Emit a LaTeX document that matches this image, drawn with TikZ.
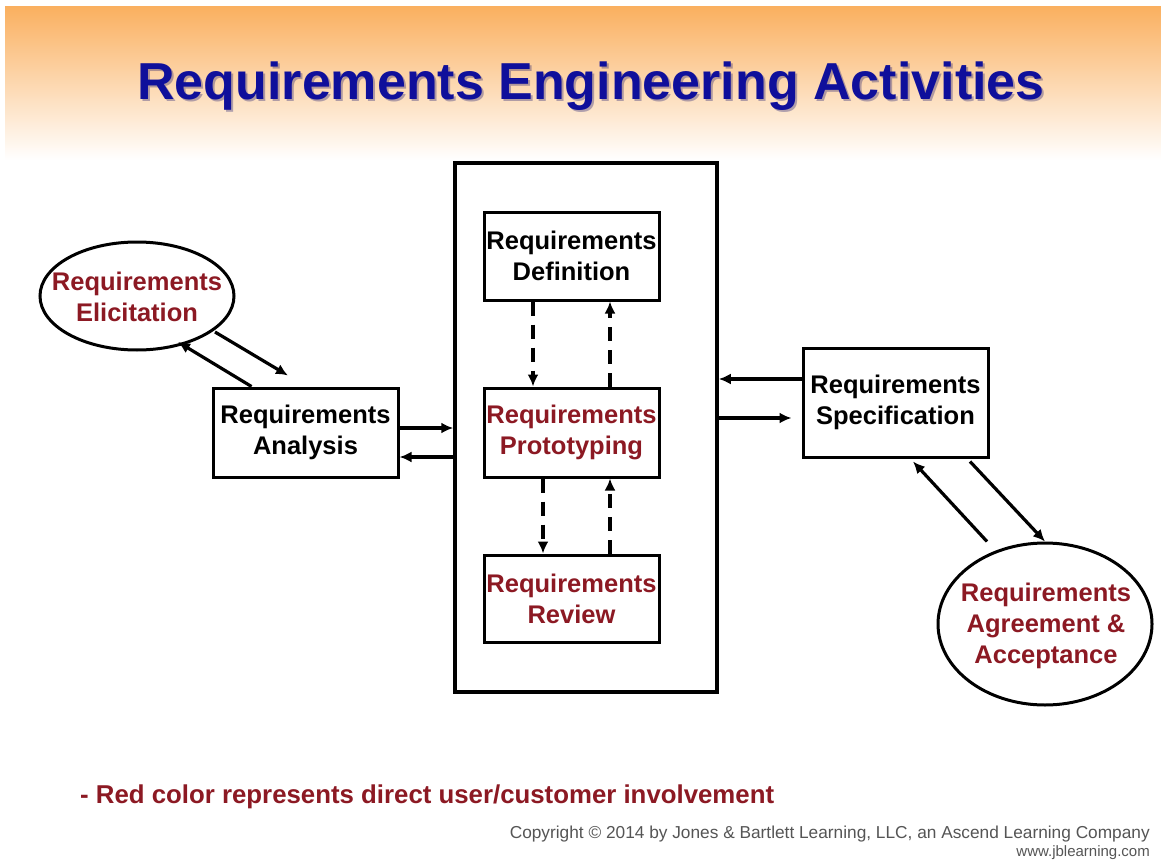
\documentclass[tikz,border=0pt]{standalone}
\usepackage{fontspec}
\setmainfont{Liberation Sans}
\usetikzlibrary{shapes.geometric,arrows.meta,calc}
\definecolor{redtxt}{RGB}{140,25,35}
\definecolor{titleblue}{RGB}{15,15,155}
\definecolor{topor}{RGB}{250,176,96}
\definecolor{midor}{RGB}{253,224,186}
\definecolor{copygray}{RGB}{85,85,85}
\tikzset{
  boxtxt/.style={font=\bfseries\fontsize{25.5}{31}\selectfont, align=center},
  stepbox/.style={draw, line width=3pt, boxtxt, inner sep=0pt},
  ellbox/.style={draw, ellipse, line width=3pt, inner sep=0pt},
  arr/.style={line width=3.2pt, -{Latex[length=12pt,width=11pt]}},
  darr/.style={arr, dash pattern=on 14pt off 9pt},
}
\begin{document}
\begin{tikzpicture}[x=1pt,y=-1pt]
\useasboundingbox (0,0) rectangle (1161,861);
\fill[white] (0,0) rectangle (1161,861);
\shade[top color=topor, middle color=midor, bottom color=white] (5,7) rectangle (1161,160);
% title
\node[font=\bfseries\fontsize{52}{60}\selectfont, text=black!60!blue, opacity=.3, anchor=base] at (593,102) {Requirements Engineering Activities};
\node[font=\bfseries\fontsize{52}{60}\selectfont, text=titleblue, anchor=base] (title) at (591,100) {Requirements Engineering Activities};
% big container
\node[draw, line width=3.5pt, minimum width=262pt, minimum height=529pt, inner sep=0pt] (big) at (586,427.5) {};
% inner boxes
\node[stepbox, minimum width=175pt, minimum height=88pt] (def) at (571.5,256) {Requirements\\Definition};
\node[stepbox, minimum width=175pt, minimum height=89pt, text=redtxt] (pro) at (571.5,432.5) {Requirements\\Prototyping};
\node[stepbox, minimum width=175pt, minimum height=87pt, text=redtxt] (rev) at (571.5,598.5) {Requirements\\Review};
% left side
\node[stepbox, minimum width=185pt, minimum height=89pt] (ana) at (305.5,432.5) {Requirements\\Analysis};
\node[ellbox, minimum width=194pt, minimum height=108pt] (eli) at (137,296) {};
\node[boxtxt, text=redtxt, inner sep=0pt] (elit) at (137,297) {Requirements\\Elicitation};
% right side
\node[stepbox, minimum width=185pt, minimum height=109pt] (spec) at (895.5,402.5) {Requirements\\Specification};
\node[ellbox, minimum width=214pt, minimum height=162pt] (agr) at (1045,624) {};
\node[boxtxt, text=redtxt, inner sep=0pt] (agrt) at (1046,626) {Requirements\\Agreement \&\\Acceptance};
% coordinates
\coordinate (a1) at ($(ana.east)+(0,-4.5)$);
\coordinate (a2) at ($(ana.east)+(0,24.5)$);
\coordinate (s1) at ($(spec.west)+(0,-23.5)$);
\coordinate (s2) at ($(spec.west)+(0,15.5)$);
\coordinate (d1) at ($(def.south)+(-38.5,0)$);
\coordinate (d2) at ($(pro.north)+(38.5,0)$);
\coordinate (p1) at ($(pro.south)+(-28.5,0)$);
\coordinate (p2) at ($(rev.north)+(38.5,0)$);
\coordinate (e1) at ($(ana.north)+(-54,0)$);
\coordinate (e2) at ($(eli.center)+(41,46)$);
\coordinate (e3) at ($(eli.center)+(78,36)$);
\coordinate (e4) at ($(ana.north)+(-17.5,-11)$);
\coordinate (g1) at ($(agr.north)+(-58,0)$);
\coordinate (g2) at ($(spec.south)+(17.5,3)$);
\coordinate (g3) at ($(spec.south)+(74.5,3)$);
% connectors
\draw[arr] (a1) -- (a1 -| big.west);
\draw[arr] (a2 -| big.west) -- (a2);
\draw[arr] (s1) -- (s1 -| big.east);
\draw[arr, shorten >=10pt] (s2 -| big.east) -- (s2);
\draw[darr] (d1) -- (d1 |- pro.north);
\draw[darr] (d2) -- (d2 |- def.south);
\draw[darr] (p1) -- (p1 |- rev.north);
\draw[darr] (p2) -- (p2 |- pro.south);
\draw[arr] (e1) -- (e2);
\draw[arr] (e3) -- (e4);
\draw[arr] (g1) -- (g2);
\draw[arr] (g3) -- (agr.north);
% footnotes
\node[font=\bfseries\fontsize{25.8}{30}\selectfont, text=redtxt, anchor=base west, inner sep=0pt] (note) at (80,803) {- Red color represents direct user/customer involvement};
\node[text=copygray, anchor=base east, inner sep=0pt] (copy) at (1150,838) {\resizebox{640pt}{!}{\fontsize{16}{18}\selectfont Copyright © 2014 by Jones \& Bartlett Learning, LLC, an Ascend Learning Company}};
\node[text=copygray, anchor=base east, inner sep=0pt, font=\fontsize{15}{18}\selectfont] (www) at (1150,856) {www.jblearning.com};
\end{tikzpicture}
\end{document}
